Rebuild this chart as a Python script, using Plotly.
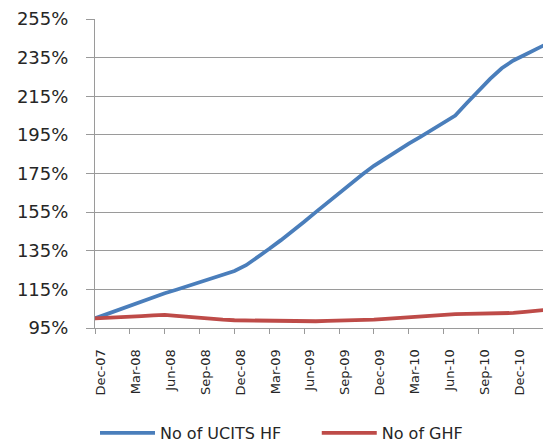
import plotly.graph_objects as go

# Monthly observations, Dec-07 onwards (index = 100% at Dec-07)
months = [
    "Dec-07", "Jan-08", "Feb-08", "Mar-08", "Apr-08", "May-08", "Jun-08", "Jul-08",
    "Aug-08", "Sep-08", "Oct-08", "Nov-08", "Dec-08", "Jan-09", "Feb-09", "Mar-09",
    "Apr-09", "May-09", "Jun-09", "Jul-09", "Aug-09", "Sep-09", "Oct-09", "Nov-09",
    "Dec-09", "Jan-10", "Feb-10", "Mar-10", "Apr-10", "May-10", "Jun-10", "Jul-10",
    "Aug-10", "Sep-10", "Oct-10", "Nov-10", "Dec-10", "Jan-11", "Feb-11", "Mar-11",
]

ucits_hf = [
    100.0, 102.2, 104.3, 106.5, 108.7, 110.8, 113.0, 114.8,
    116.7, 118.5, 120.5, 122.5, 124.5, 127.5, 131.5, 136.0,
    140.5, 145.0, 150.0, 155.0, 160.0, 165.0, 170.0, 174.5,
    179.0, 183.0, 187.0, 190.5, 194.0, 197.5, 201.0, 205.0,
    211.5, 218.0, 224.0, 229.5, 233.5, 236.5, 239.5, 242.5,
]

ghf = [
    100.0, 100.2, 100.5, 100.8, 101.1, 101.5, 101.8, 101.3,
    100.7, 100.2, 99.7, 99.3, 99.0, 98.9, 98.7, 98.6,
    98.5, 98.5, 98.4, 98.5, 98.7, 98.8, 99.0, 99.2,
    99.3, 99.7, 100.1, 100.6, 101.1, 101.6, 102.0, 102.2,
    102.3, 102.4, 102.5, 102.7, 102.8, 103.4, 104.0, 104.5,
]

# Quarterly tick labels on the category axis
quarter_labels = [
    "Dec-07", "Mar-08", "Jun-08", "Sep-08", "Dec-08", "Mar-09", "Jun-09",
    "Sep-09", "Dec-09", "Mar-10", "Jun-10", "Sep-10", "Dec-10",
]

series_names = ["No of UCITS HF", "No of GHF"]
series_colors = ["#4A7EBB", "#BE4B48"]

grid_col = "#9a9a9a"
text_col = "#262626"
font_family = "DejaVu Sans"

fig = go.Figure()
legend_ids = ["legend", "legend2"]
for name, vals, col, lg in zip(series_names, [ucits_hf, ghf], series_colors, legend_ids):
    fig.add_trace(go.Scatter(
        x=months, y=vals, name=name, mode="lines",
        line=dict(color=col, width=3.8),
        legend=lg,
    ))

legend_style = dict(
    orientation="h", yanchor="middle", y=-0.34, xanchor="left",
    font=dict(family=font_family, size=16, color=text_col),
    itemwidth=55, bgcolor="rgba(0,0,0,0)",
)

fig.update_layout(
    width=543, height=444,
    margin=dict(l=95, r=0, t=19, b=116, autoexpand=False),
    paper_bgcolor="white", plot_bgcolor="white",
    font=dict(family=font_family, color=text_col),
    showlegend=True,
    legend=dict(x=0.0, **legend_style),
    legend2=dict(x=0.495, **legend_style),
)

fig.update_xaxes(
    type="category",
    categoryorder="array", categoryarray=months,
    range=[0, 38.55],
    tickmode="array", tickvals=quarter_labels, ticktext=quarter_labels,
    tickangle=-90,
    ticks="outside", ticklen=5, tickcolor=grid_col, tickwidth=1,
    ticklabelstandoff=10, ticklabelshift=6,
    showline=True, linecolor=grid_col, linewidth=1,
    showgrid=False, zeroline=False,
    tickfont=dict(family=font_family, size=13, color=text_col),
)

fig.update_yaxes(
    range=[95, 255],
    tick0=95, dtick=20,
    ticksuffix="%",
    ticks="outside", ticklen=8, tickcolor=grid_col, tickwidth=1,
    ticklabelstandoff=14,
    showline=True, linecolor=grid_col, linewidth=1,
    showgrid=True, gridcolor=grid_col, gridwidth=1,
    zeroline=False,
    tickfont=dict(family=font_family, size=18, color=text_col),
)

fig.write_html("out.html")
